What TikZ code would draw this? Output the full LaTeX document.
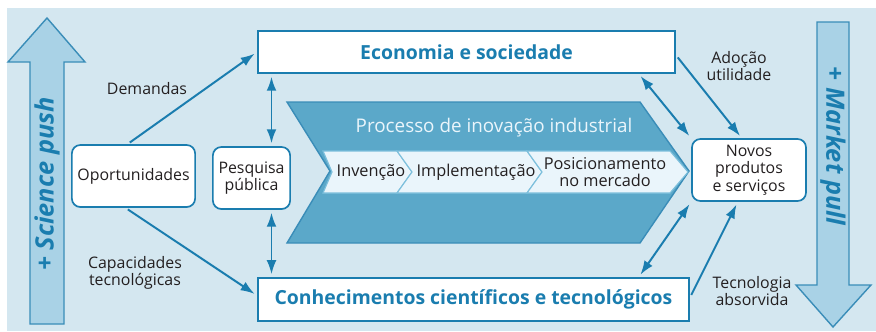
\documentclass[tikz,border=0pt]{standalone}
\usepackage{fontspec}
\setmainfont{Open Sans}
\usepackage{tikz}
\usetikzlibrary{arrows.meta}
\definecolor{fundo}{HTML}{D4E7F0}
\definecolor{azul}{HTML}{1A7DAF}
\definecolor{azulclaro}{HTML}{A9D2E6}
\definecolor{chevfill}{HTML}{5BA8C9}
\definecolor{chevdraw}{HTML}{3A8DB8}
\definecolor{etapa}{HTML}{EAF5FB}
\definecolor{etapadraw}{HTML}{7CBFDC}
\definecolor{texto}{HTML}{231F20}
\tikzset{
Caixa/.style={
 draw=azul, 
 fill=white, 
 line width=1.2pt, 
 inner sep=0pt,
 text=texto, 
 align=center, 
 font=\fontsize{11.3}{12.5}\selectfont
 },
CaixaR/.style={
 Caixa, 
 rounded corners=6pt
 },
Titulo/.style={
 Caixa, 
 text=azul, 
 font=\fontsize{13.8}{15}\selectfont\bfseries
 },
Fleche/.style={
 draw=azul, 
 line width=1.4pt, 
 -{Latex[length=10pt,width=7pt]}, 
 shorten >=2pt, 
 shorten <=2pt
 },
DoubleFleche/.style={
 Fleche, 
 {Latex[length=10pt,width=7pt]}-{Latex[length=10pt,width=7pt]}
 },
Rotulo/.style={
 text=texto, 
 align=center, 
 inner sep=0pt, 
 font=\fontsize{11.3}{12}\selectfont
 },
Etapa/.style={
 fill=etapa, 
 draw=etapadraw, 
 line width=0.8pt
 },
GrandeFleche/.style={
 fill=azulclaro, 
 draw=chevdraw, 
 line width=1pt
 },
Impulso/.style={
 text=azul, 
 font=\fontsize{18}{20}\selectfont\bfseries\itshape
 }
}

\begin{document}
\begin{tikzpicture}[x=0.025cm,y=-0.025cm]
\useasboundingbox (0,0) rectangle (876,331);
\fill[fundo] (7,8) rectangle (876,331);
% science push / market pull
\draw[GrandeFleche] (30,324) -- (30,62) -- (8,62) -- (47,18) -- (85,62) -- (64,62) -- (64,324) -- cycle;
\draw[GrandeFleche] (817,22) -- (849,22) -- (849,285) -- (871,285) -- (833,327) -- (796,285) -- (817,285) -- cycle;
\node[Impulso, rotate=90] (push) at (47,184) {+ Science push};
\node[Impulso, rotate=-90] (pull) at (833,146) {+ Market pull};
% processo
\draw[fill=chevfill, draw=chevdraw, line width=1pt] (287,102) -- (640,102) -- (689,171) -- (640,243) -- (287,243) -- (330,171) -- cycle;
\node[text=etapa, font=\fontsize{13.4}{15}\selectfont] (processo) at (494,128) {Processo de inovação industrial};
\draw[Etapa] (323,151) -- (397,151) -- (412,172) -- (397,193) -- (323,193) -- (332,172) -- cycle;
\draw[Etapa] (397,151) -- (527,151) -- (542,172) -- (527,193) -- (397,193) -- (412,172) -- cycle;
\draw[Etapa] (527,151) -- (670,151) -- (688,172) -- (670,193) -- (527,193) -- (542,172) -- cycle;
\node[Rotulo, font=\fontsize{11.6}{12}\selectfont] (invencao) at (371,172) {Invenção};
\node[Rotulo, font=\fontsize{11.6}{12}\selectfont] (implem) at (476,172) {Implementação};
\node[Rotulo, font=\fontsize{11.6}{12}\selectfont] (posic) at (605,172) {Posicionamento\\no mercado};
% caixas
\node[Titulo, minimum width=10.43cm, minimum height=1.05cm] (econ) at (466.5,52) {Economia e sociedade};
\node[Titulo, minimum width=10.78cm, minimum height=1.08cm] (conhec) at (473.5,299.5) {Conhecimentos científicos e tecnológicos};
\node[CaixaR, minimum width=3.08cm, minimum height=1.55cm] (oport) at (133.5,176) {Oportunidades};
\node[CaixaR, minimum width=1.93cm, minimum height=1.55cm] (pesq) at (251.5,178) {Pesquisa\\pública};
\node[CaixaR, minimum width=2.85cm, minimum height=1.55cm] (novos) at (749,170) {Novos\\produtos\\e serviços};
% rotulos
\node[Rotulo] (demandas) at (147,89) {Demandas};
\node[Rotulo] (capac) at (135,273) {Capacidades\\tecnológicas};
\node[Rotulo] (adocao) at (739,66) {Adoção\\utilidade};
\node[Rotulo] (tecno) at (752,291) {Tecnologia\\absorvida};
% setas
\draw[Fleche] ([xshift=-0.15cm]oport.north) -- (econ.west);
\draw[Fleche] ([xshift=-0.2cm]oport.south) -- ([yshift=0.1cm]conhec.west);
\draw[DoubleFleche] ([xshift=0.5cm]pesq.north) -- ([xshift=0.5cm]pesq.north |- econ.south);
\draw[DoubleFleche] ([xshift=0.5cm]pesq.south) -- ([xshift=0.5cm]pesq.south |- conhec.north);
\draw[DoubleFleche] ([xshift=-0.93cm]econ.south east) -- (novos.north west);
\draw[Fleche] ([yshift=-0.08cm]econ.east) -- ([xshift=-0.18cm]novos.north);
\draw[DoubleFleche] ([xshift=-1.28cm]conhec.north east) -- (novos.south west);
\draw[Fleche] ([yshift=0.05cm]conhec.east) -- ([xshift=-0.28cm]novos.south);
\end{tikzpicture}
\end{document}
